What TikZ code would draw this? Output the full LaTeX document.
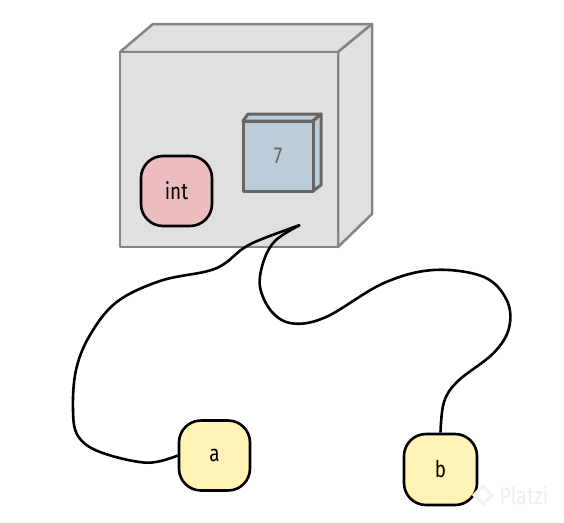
\documentclass[tikz,border=0pt]{standalone}
\usepackage{fontspec}
\setmainfont{Fira Sans}[FakeStretch=0.82]
\begin{document}
\begin{tikzpicture}[x=1pt,y=-1pt,
  box/.style={fill=boxgray,draw=edgegray,line width=2.5pt,line join=round},
  inner/.style={fill=innerblue,draw=darkedge,line width=3pt,line join=round},
  token/.style={draw=black,line width=2.6pt,rounded corners=22pt,minimum width=71pt,minimum height=70pt,inner sep=0pt,font=\fontsize{23}{26}\selectfont},
  wire/.style={draw=black,line width=2.6pt}]
\definecolor{boxgray}{HTML}{E0E0E0}
\definecolor{edgegray}{HTML}{858585}
\definecolor{innerblue}{HTML}{BCCCD8}
\definecolor{darkedge}{HTML}{666666}
\definecolor{intpink}{HTML}{EBBDC0}
\definecolor{varyellow}{HTML}{FFF4B5}
\useasboundingbox (0,0) rectangle (564,522);
% big box
\path[box] (120,52) -- (153,24) -- (372,24) -- (338,52) -- cycle;
\path[box] (338,52) -- (372,24) -- (372,214) -- (338,247) -- cycle;
\path[box] (120,52) rectangle (338,247);
% inner box
\path[inner] (243,121) -- (248,114) -- (321,114) -- (313,121) -- cycle;
\path[inner] (313,121) -- (321,114) -- (321,185) -- (313,191) -- cycle;
\path[inner] (243,121) rectangle (313,191);
\node[text=darkedge,font=\fontsize{23}{26}\selectfont] (seven) at (278,156) {7};
% nodes
\node[token,fill=intpink] (int) at (176.5,191) {int};
\node[token,fill=varyellow] (a) at (214.5,455.5) {a};
\node[token,fill=varyellow,minimum width=73pt,minimum height=71pt] (b) at (440.5,469.5) {b};
\coordinate (tip) at (300,225);
% wire
\draw[wire] plot[smooth,tension=0.6] coordinates {(a.west) (146.7,462.7) (100,452) (78,436) (73,410) (76,370) (90,335) (116.7,302) (160,281) (206,271.5) (224,264) (243.3,248.3) (262,239) (tip)};
\draw[wire] plot[smooth,tension=0.6] coordinates {(tip) (276,240) (264,260) (260,286.7) (272,312) (293.3,323.5) (326.7,316.7) (383.3,283.3) (433.3,270) (483.3,276.7) (506.7,300) (509,328) (493.3,353.3) (458,381) (444,402) (b.north)};
% watermark
\node[text=black!7,font=\fontsize{24}{26}\selectfont] (wm) at (524,495) {Platzi};
\draw[black!5,line width=3pt] (474,495) -- (483,486) -- (492,495) -- (483,504) -- cycle;
\end{tikzpicture}
\end{document}
